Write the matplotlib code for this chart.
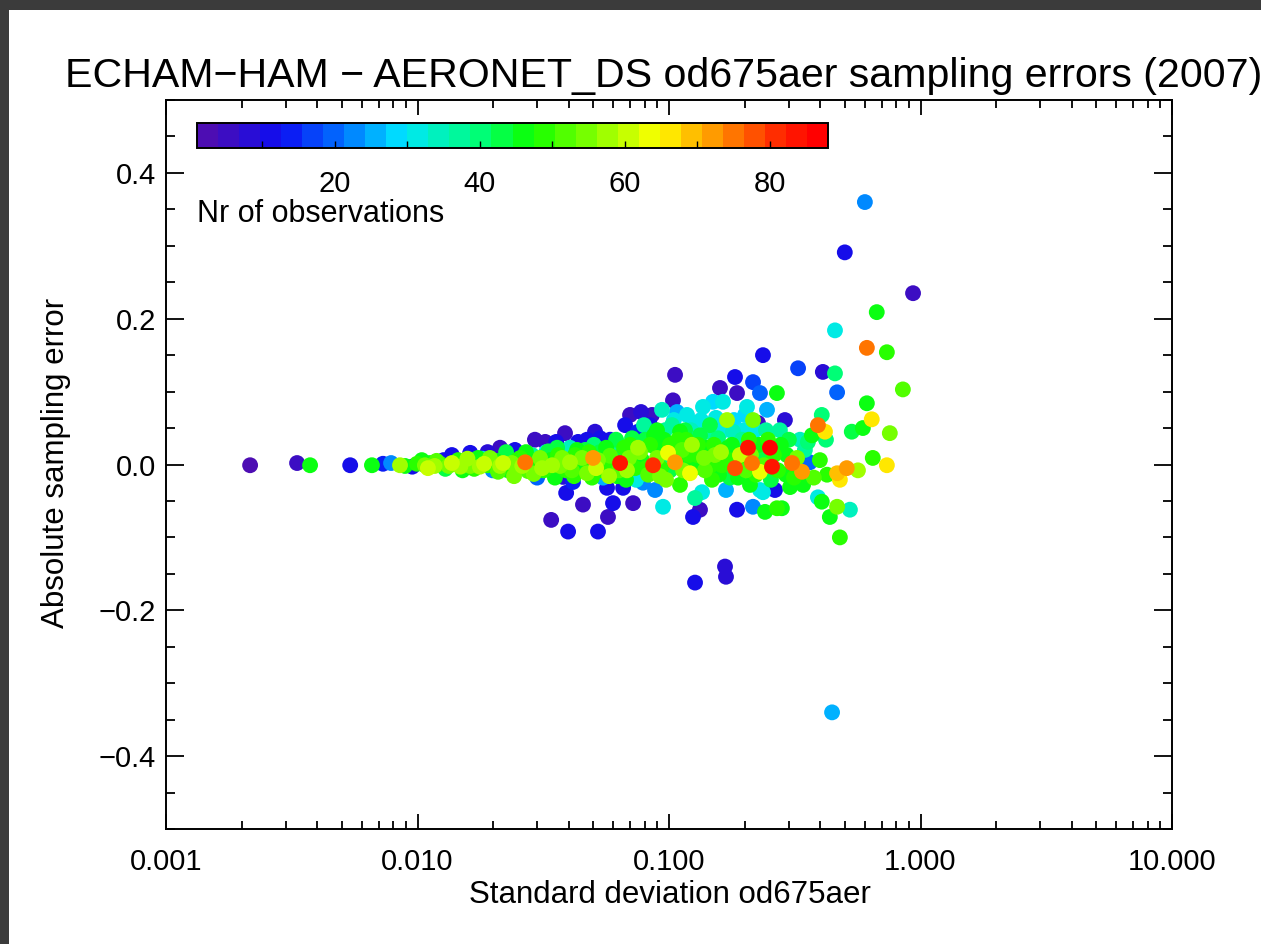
import numpy as np
import matplotlib
matplotlib.use("Agg")
import matplotlib.pyplot as plt
from matplotlib.colors import LinearSegmentedColormap, ListedColormap, Normalize
from matplotlib.patches import Rectangle
from matplotlib.ticker import FixedLocator, MultipleLocator, LogLocator, NullFormatter, FuncFormatter
from matplotlib.cm import ScalarMappable

plt.rcParams['font.family'] = ['Liberation Sans', 'DejaVu Sans']

# ---------------- data ----------------
# scattered stations: standard deviation, sampling error, number of observations
std_dev = [
    0.00216, 0.00332, 0.00374, 0.00540, 0.00659, 0.00729, 0.00785, 0.00852, 0.00892, 0.00953,
    0.00995, 0.0107, 0.0112, 0.0117, 0.0123, 0.0127, 0.0133, 0.0137, 0.0141, 0.0148,
    0.0154, 0.0162, 0.0162, 0.0171, 0.0177, 0.0181, 0.0190, 0.0190, 0.0199, 0.0205,
    0.0213, 0.0213, 0.0223, 0.0229, 0.0237, 0.0244, 0.0251, 0.0256, 0.0268, 0.0275,
    0.0285, 0.0293, 0.0299, 0.0301, 0.0313, 0.0322, 0.0325, 0.0337, 0.0340, 0.0346,
    0.0356, 0.0362, 0.0369, 0.0379, 0.0386, 0.0390, 0.0397, 0.0397, 0.0404, 0.0411,
    0.0415, 0.0423, 0.0435, 0.0443, 0.0455, 0.0464, 0.0472, 0.0472, 0.0485, 0.0499,
    0.0508, 0.0513, 0.0522, 0.0532, 0.0532, 0.0547, 0.0557, 0.0567, 0.0572, 0.0583,
    0.0583, 0.0594, 0.0599, 0.0610, 0.0621, 0.0639, 0.0651, 0.0657, 0.0669, 0.0681,
    0.0700, 0.0700, 0.0720, 0.0720, 0.0740, 0.0753, 0.0767, 0.0774, 0.0788, 0.0803,
    0.0810, 0.0841, 0.0856, 0.0864, 0.0880, 0.0888, 0.0896, 0.0921, 0.0938, 0.0947,
    0.0955, 0.0982, 0.0991, 0.1009, 0.1028, 0.1037, 0.1057, 0.1057, 0.1076, 0.1086,
    0.1106, 0.1127, 0.1158, 0.1179, 0.1190, 0.1212, 0.1234, 0.1246, 0.1246, 0.1269,
    0.1269, 0.1292, 0.1328, 0.1328, 0.1353, 0.1365, 0.1390, 0.1416, 0.1455, 0.1482,
    0.1496, 0.1523, 0.1566, 0.1595, 0.1624, 0.1639, 0.1670, 0.1685, 0.1701, 0.1716,
    0.1748, 0.1797, 0.1830, 0.1830, 0.1864, 0.1864, 0.1915, 0.1950, 0.2005, 0.2042,
    0.2061, 0.2099, 0.2138, 0.2158, 0.2158, 0.2158, 0.2197, 0.2258, 0.2300, 0.2300,
    0.2300, 0.2342, 0.2364, 0.2364, 0.2408, 0.2453, 0.2475, 0.2520, 0.2567, 0.2638,
    0.2686, 0.2686, 0.2760, 0.2811, 0.2890, 0.2943, 0.3030, 0.3086, 0.326, 0.332,
    0.338, 0.347, 0.363, 0.370, 0.391, 0.391, 0.405, 0.405, 0.409, 0.417,
    0.425, 0.436, 0.445, 0.457, 0.457, 0.466, 0.466, 0.466, 0.478, 0.478,
    0.500, 0.509, 0.524, 0.533, 0.564, 0.590, 0.601, 0.612, 0.612, 0.640,
    0.646, 0.670, 0.735, 0.735, 0.755, 0.851, 0.934,
]
samp_err = [
    -0.001, 0.002, -0.001, -0.001, -0.001, 0.001, 0.002, -0.001, -0.002, -0.003,
    0.001, -0.001, 0.002, -0.002, 0.001, 0.006, -0.002, 0.013, 0.001, -0.003,
    0.003, 0.016, -0.002, 0.002, -0.003, 0.008, 0.017, -0.001, -0.008, 0.005,
    0.023, -0.002, 0.009, -0.008, 0.002, 0.020, -0.005, 0.009, 0.003, -0.009,
    0.013, 0.034, -0.018, 0.001, -0.005, 0.031, 0.017, 0.006, -0.076, -0.010,
    0.031, 0.013, -0.002, -0.017, 0.043, -0.039, -0.092, 0.006, 0.023, -0.008,
    -0.024, 0.013, 0.031, -0.001, -0.055, 0.020, 0.034, -0.012, 0.003, 0.009,
    0.045, -0.005, -0.092, 0.036, 0.017, -0.018, -0.001, -0.032, -0.072, 0.034,
    0.012, -0.008, -0.053, 0.025, -0.016, 0.002, 0.013, -0.032, 0.054, -0.008,
    0.027, 0.068, -0.053, 0.006, -0.021, 0.045, 0.017, 0.072, -0.025, 0.034,
    -0.005, 0.054, 0.068, -0.001, -0.035, 0.023, 0.047, -0.016, 0.075, -0.058,
    0.034, 0.013, 0.016, -0.008, 0.054, 0.088, 0.123, 0.003, 0.072, 0.034,
    -0.028, 0.020, 0.047, 0.068, 0.003, -0.012, 0.027, 0.057, -0.072, -0.162,
    -0.046, 0.013, -0.062, 0.040, -0.038, 0.079, -0.008, 0.023, 0.054, -0.021,
    0.086, 0.013, 0.036, 0.105, -0.001, 0.086, -0.140, -0.154, 0.061, 0.023,
    -0.018, 0.045, -0.005, 0.120, 0.098, -0.062, 0.013, 0.034, 0.068, 0.079,
    0.023, -0.028, 0.002, 0.113, 0.061, -0.058, 0.047, 0.057, 0.098, -0.010,
    -0.035, 0.013, 0.150, -0.038, -0.065, 0.075, 0.034, 0.023, -0.003, -0.035,
    0.098, -0.060, 0.047, -0.060, 0.061, 0.013, -0.031, 0.002, 0.132, 0.034,
    -0.010, 0.020, 0.003, 0.040, 0.054, -0.045, 0.068, -0.051, 0.127, 0.045,
    -0.014, -0.072, -0.340, 0.184, 0.125, 0.099, -0.012, -0.058, -0.021, -0.100,
    0.291, -0.005, -0.062, 0.045, -0.008, 0.050, 0.360, 0.084, 0.160, 0.062,
    0.009, 0.209, 0.154, -0.001, 0.043, 0.103, 0.235,
]
n_obs = [
    3, 4, 46, 12, 45, 14, 22, 58, 45, 12,
    50, 56, 45, 58, 50, 10, 56, 12, 48, 58,
    45, 12, 55, 42, 58, 30, 8, 50, 22, 47,
    6, 57, 40, 46, 56, 10, 44, 50, 74, 52,
    38, 5, 20, 48, 58, 6, 30, 46, 4, 40,
    10, 48, 56, 8, 4, 12, 10, 44, 34, 52,
    14, 50, 10, 46, 5, 42, 12, 56, 50, 72,
    8, 60, 10, 12, 44, 26, 48, 12, 5, 10,
    52, 40, 11, 38, 46, 84, 44, 10, 12, 58,
    50, 6, 5, 46, 32, 14, 56, 8, 22, 42,
    48, 10, 6, 80, 22, 45, 46, 55, 33, 30,
    47, 40, 64, 44, 36, 5, 4, 72, 25, 50,
    48, 52, 44, 32, 46, 64, 58, 30, 10, 10,
    38, 48, 4, 42, 30, 30, 52, 46, 44, 48,
    29, 55, 40, 5, 50, 32, 8, 8, 58, 47,
    44, 34, 78, 10, 5, 12, 60, 38, 28, 30,
    84, 46, 74, 18, 56, 22, 30, 6, 20, 64,
    30, 44, 10, 32, 46, 26, 48, 86, 84, 12,
    45, 48, 38, 46, 8, 46, 46, 74, 18, 34,
    72, 36, 20, 46, 74, 32, 40, 46, 8, 66,
    48, 46, 25, 30, 40, 20, 68, 56, 66, 48,
    10, 72, 34, 42, 58, 46, 22, 46, 74, 66,
    48, 46, 48, 66, 56, 52, 4,
]

# densely populated core of the distribution
core_std = [
    0.0104, 0.0110, 0.0119, 0.0129, 0.0137, 0.0145, 0.0151, 0.0158, 0.0168, 0.0174,
    0.0184, 0.0194, 0.0201, 0.0209, 0.0219, 0.0225, 0.0233, 0.0242, 0.0249, 0.0261,
    0.0270, 0.0280, 0.0290, 0.0307, 0.0318, 0.0331, 0.0343, 0.0352, 0.0359, 0.0376,
    0.0390, 0.0404, 0.0419, 0.0431, 0.0451, 0.0459, 0.0481, 0.0494, 0.0503, 0.0522,
    0.0542, 0.0562, 0.0578, 0.0594, 0.0616, 0.0633, 0.0663, 0.0675, 0.0694, 0.0713,
    0.0733, 0.0753, 0.0781, 0.0795, 0.0826, 0.0841, 0.0872, 0.0896, 0.0929, 0.0964,
    0.0973, 0.1009, 0.1046, 0.1067, 0.1106, 0.1137, 0.1169, 0.1201, 0.1223, 0.1257,
    0.1305, 0.1340, 0.1377, 0.1429, 0.1468, 0.1509, 0.1537, 0.1580, 0.1610, 0.1654,
    0.1685, 0.1732, 0.1780, 0.1813, 0.1881, 0.1933, 0.1986, 0.2023, 0.2079, 0.2118,
    0.2217, 0.2278, 0.2385, 0.2430, 0.2543, 0.2613, 0.2712, 0.2785, 0.2917, 0.2997,
    0.3142, 0.3229, 0.3413, 0.3567, 0.3764, 0.398, 0.4208,
]
core_err = [
    0.006, -0.005, 0.005, -0.006, 0.002, 0.006, -0.008, 0.008, -0.006, 0.009,
    0.001, 0.009, -0.002, -0.010, 0.002, 0.017, -0.003, -0.016, 0.006, -0.002,
    0.017, -0.001, -0.013, 0.009, -0.008, 0.018, -0.001, -0.018, 0.023, 0.009,
    -0.008, 0.003, -0.016, 0.020, 0.009, -0.008, 0.017, -0.018, 0.027, 0.006,
    -0.008, 0.023, -0.016, 0.006, 0.034, -0.008, 0.023, -0.021, 0.009, 0.036,
    -0.005, 0.023, 0.006, 0.054, -0.014, 0.027, 0.040, 0.009, -0.005, 0.047,
    -0.021, 0.027, 0.061, 0.017, 0.045, -0.008, 0.034, 0.013, 0.047, -0.005,
    0.027, 0.061, 0.009, 0.045, -0.001, 0.027, 0.064, -0.014, 0.017, 0.047,
    -0.035, 0.006, 0.027, 0.061, -0.018, -0.001, 0.047, -0.008, 0.034, 0.013,
    -0.014, 0.027, -0.001, 0.047, -0.021, 0.013, -0.008, 0.027, -0.014, 0.034,
    -0.018, 0.009, -0.028, 0.031, -0.018, 0.006, 0.034,
]
core_n = [
    46, 60, 52, 44, 60, 50, 46, 58, 50, 46,
    60, 56, 46, 52, 60, 44, 50, 56, 48, 58,
    46, 50, 56, 56, 48, 42, 58, 46, 44, 56,
    48, 58, 50, 46, 56, 44, 50, 48, 40, 56,
    50, 46, 58, 48, 44, 52, 48, 46, 56, 42,
    50, 58, 46, 36, 52, 48, 46, 54, 48, 38,
    56, 48, 30, 50, 46, 56, 48, 50, 34, 46,
    50, 30, 56, 38, 48, 50, 32, 46, 58, 30,
    26, 48, 46, 28, 46, 50, 32, 52, 48, 56,
    50, 46, 52, 36, 44, 50, 48, 46, 46, 42,
    48, 56, 46, 40, 52, 48, 40,
]

x_ticks = [0.001, 0.01, 0.1, 1.0, 10.0]
y_ticks = [-0.4, -0.2, 0.0, 0.2, 0.4]
cbar_ticks = [10, 20, 30, 40, 50, 60, 70, 80]
cbar_labels = ["", "20", "", "40", "", "60", "", "80"]
n_min, n_max = 1, 88

title = "ECHAM\u2212HAM \u2212 AERONET_DS od675aer sampling errors (2007)"
xlabel = "Standard deviation od675aer"
ylabel = "Absolute sampling error"
cbar_title = "Nr of observations"

# ---------------- colour table ----------------
rainbow = LinearSegmentedColormap.from_list("rainbow_ct", [
    (0.00, (0.30, 0.05, 0.70)),
    (0.12, (0.05, 0.05, 0.95)),
    (0.22, (0.00, 0.45, 1.00)),
    (0.32, (0.00, 0.90, 1.00)),
    (0.45, (0.00, 1.00, 0.45)),
    (0.53, (0.05, 1.00, 0.00)),
    (0.66, (0.65, 1.00, 0.00)),
    (0.74, (1.00, 1.00, 0.00)),
    (0.84, (1.00, 0.55, 0.00)),
    (0.94, (1.00, 0.15, 0.00)),
    (1.00, (1.00, 0.00, 0.00)),
])
cmap = ListedColormap(rainbow(np.linspace(0, 1, 30)))
norm = Normalize(vmin=n_min, vmax=n_max)

# ---------------- figure ----------------
W, H = 1261, 944
fig = plt.figure(figsize=(W / 100, H / 100), dpi=100)
fig.patch.set_facecolor("white")
fig.patches.append(Rectangle((0, 1 - 10 / H), 1, 10 / H, transform=fig.transFigure,
                             facecolor="#3b3b3b", edgecolor="none", zorder=0))
fig.patches.append(Rectangle((0, 0), 9 / W, 1, transform=fig.transFigure,
                             facecolor="#3b3b3b", edgecolor="none", zorder=0))

ax = fig.add_axes([166 / W, 1 - 829 / H, 1006 / W, 729 / H])
ax.set_xscale("log")
ax.set_xlim(0.001, 10)
ax.set_ylim(-0.5, 0.5)

xs = np.array(std_dev + core_std)
ys = np.array(samp_err + core_err)
ns = np.array(n_obs + core_n)
order = np.argsort(ns, kind="stable")
ax.scatter(xs[order], ys[order], c=ns[order], cmap=cmap, norm=norm,
           s=130, linewidths=0, zorder=3)

ax.xaxis.set_major_locator(FixedLocator(x_ticks))
ax.xaxis.set_minor_locator(LogLocator(base=10, subs=np.arange(2, 10)))
ax.xaxis.set_minor_formatter(NullFormatter())
ax.xaxis.set_major_formatter(FuncFormatter(lambda v, p: f"{v:.3f}"))
ax.yaxis.set_major_locator(FixedLocator(y_ticks))
ax.yaxis.set_minor_locator(MultipleLocator(0.05))
ax.yaxis.set_major_formatter(FuncFormatter(lambda v, p: f"{v:.1f}".replace("-", "\u2212")))

ax.tick_params(which="both", direction="in", top=True, right=True, width=1.3, colors="black")
ax.tick_params(axis="y", which="major", length=13, labelsize=21, pad=7)
ax.tick_params(axis="y", which="minor", length=6.5)
ax.tick_params(axis="x", which="major", length=11, labelsize=21, pad=14)
ax.tick_params(axis="x", which="minor", length=5.5)
for sp in ax.spines.values():
    sp.set_linewidth(1.4)

fig.text(65 / W, 1 - 87 / H, title, fontsize=29.6, ha="left", va="baseline")
fig.text(670 / W, 1 - 895 / H, xlabel, fontsize=22.5, ha="center", va="center")
fig.text(56 / W, 1 - 463 / H, ylabel, fontsize=22.5, ha="center", va="center", rotation=90)

# colour bar inside the plot area
cax = fig.add_axes([197 / W, 1 - 148 / H, 631 / W, 25 / H])
cb = fig.colorbar(ScalarMappable(norm=norm, cmap=cmap), cax=cax, orientation="horizontal")
cb.set_ticks(cbar_ticks)
cb.set_ticklabels(cbar_labels)
cb.outline.set_linewidth(1.4)
cax.tick_params(direction="in", length=5, width=1, labelsize=21, pad=16)
cax.minorticks_off()
fig.text(197 / W, 1 - 222 / H, cbar_title, fontsize=22, ha="left", va="baseline")

fig.savefig("out.png", dpi=100)
